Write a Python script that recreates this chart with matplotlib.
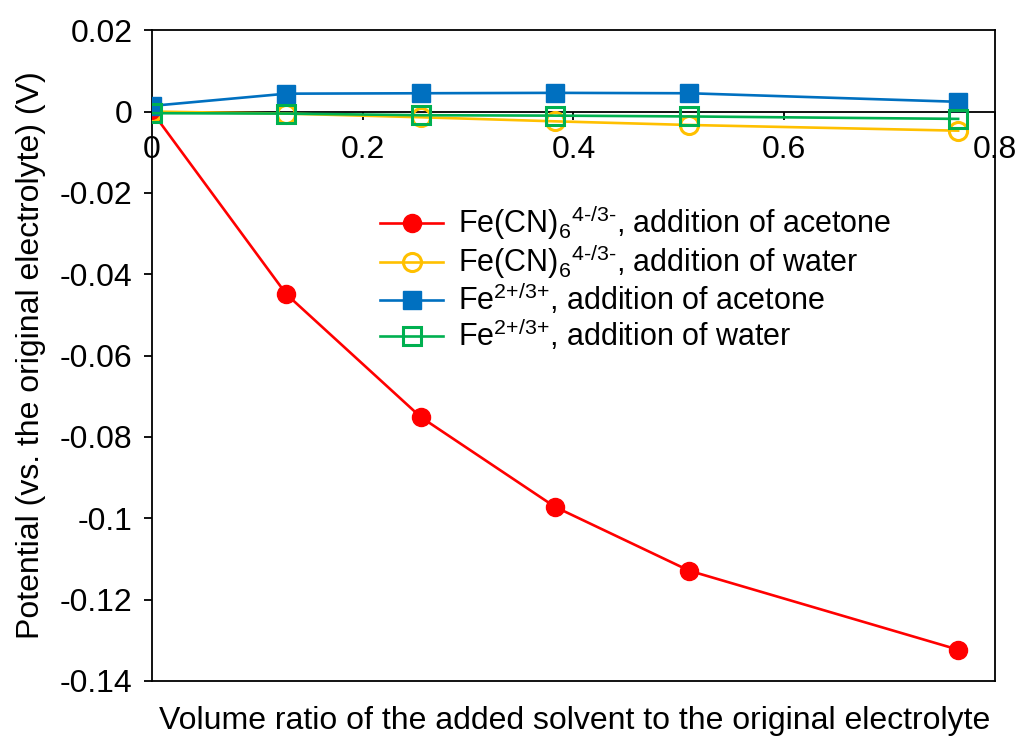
import numpy as np
import matplotlib
matplotlib.use('Agg')
import matplotlib.pyplot as plt

plt.rcParams['font.family'] = ['Liberation Sans', 'DejaVu Sans']
plt.rcParams['mathtext.fontset'] = 'custom'
plt.rcParams['mathtext.rm'] = 'Liberation Sans'
plt.rcParams['mathtext.it'] = 'Liberation Sans'
plt.rcParams['mathtext.default'] = 'regular'

# volume ratio of added solvent
ratio = [0, 0.1275, 0.255, 0.3825, 0.51, 0.765]

# potentials (V)
fecn_acetone = [0.0, -0.0449, -0.0751, -0.0972, -0.1129, -0.1323]
fecn_water = [0.0, -0.0005, -0.0014, -0.0024, -0.0033, -0.0047]
fe_acetone = [0.0014, 0.0044, 0.0045, 0.0046, 0.0045, 0.0024]
fe_water = [-0.0004, -0.0005, -0.0009, -0.0010, -0.0012, -0.0018]

labels = [r'Fe(CN)$_6$$^{\text{4-/3-}}$, addition of acetone',
          r'Fe(CN)$_6$$^{\text{4-/3-}}$, addition of water',
          r'Fe$^{\text{2+/3+}}$, addition of acetone',
          r'Fe$^{\text{2+/3+}}$, addition of water']

yticks = [0.02, 0, -0.02, -0.04, -0.06, -0.08, -0.1, -0.12, -0.14]
ytick_labels = ['0.02', '0', '-0.02', '-0.04', '-0.06', '-0.08', '-0.1', '-0.12', '-0.14']
xticks = [0, 0.2, 0.4, 0.6, 0.8]
xtick_labels = ['0', '0.2', '0.4', '0.6', '0.8']

fig = plt.figure(figsize=(10.2, 7.37), dpi=100)
ax = fig.add_axes([0.149, 0.076, 0.8265, 0.883])

ax.plot(ratio, fecn_acetone, '-o', color='#FF0000', lw=1.9, ms=13, label=labels[0], zorder=3)
ax.plot(ratio, fecn_water, '-o', color='#FFC000', lw=1.9, ms=13, mfc='none', mew=2.2, label=labels[1], zorder=4)
ax.plot(ratio, fe_acetone, '-s', color='#0070C0', lw=1.9, ms=13, label=labels[2], zorder=5)
ax.plot(ratio, fe_water, '-s', color='#00B050', lw=1.9, ms=13, mfc='none', mew=2.2, label=labels[3], zorder=6)

ax.set_xlim(0, 0.8)
ax.set_ylim(-0.14, 0.02)

# x axis crosses at zero, keep the box around the plot
ax.spines['bottom'].set_position(('data', 0))
for s in ax.spines.values():
    s.set_linewidth(1.3)
    s.set_zorder(2)
ax.plot([0, 1], [0, 0], transform=ax.transAxes, color='black', lw=1.3, clip_on=False)

ax.set_xticks(xticks)
ax.set_xticklabels(xtick_labels)
ax.set_yticks(yticks)
ax.set_yticklabels(ytick_labels)
ax.tick_params(axis='both', direction='out', length=6, width=1.3, labelsize=23)
ax.tick_params(axis='x', pad=11)
ax.tick_params(axis='y', pad=8)

ax.set_ylabel('Potential (vs. the original electrolyte) (V)', fontsize=23, labelpad=10)
fig.text(0.563, 0.002, 'Volume ratio of the added solvent to the original electrolyte',
         ha='center', va='bottom', fontsize=23)

ax.legend(loc='upper left', bbox_to_anchor=(0.358, 0.745), bbox_transform=fig.transFigure,
          frameon=False, fontsize=22, handlelength=2.05, handletextpad=0.5,
          labelspacing=0.0, borderpad=0)

fig.savefig('out.png', dpi=100)
